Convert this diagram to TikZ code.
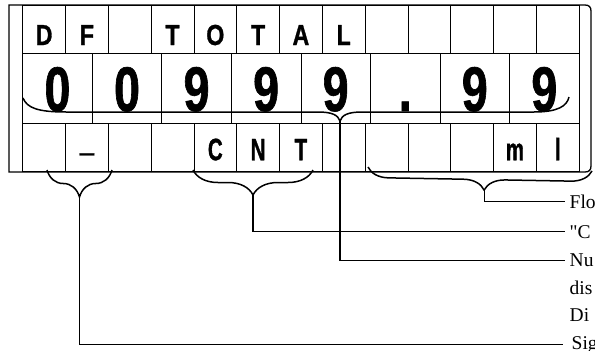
\documentclass[tikz,border=0pt]{standalone}
\usepackage{fontspec}
\setmainfont{Liberation Serif}
\newfontfamily\lcdtop[FakeStretch=0.8, FakeBold=1]{Liberation Sans}
\newfontfamily\lcdnum[FakeStretch=0.74, FakeBold=1]{Liberation Sans}
\newfontfamily\lcdbot[FakeStretch=0.66, FakeBold=1]{Liberation Sans}
\usetikzlibrary{decorations.pathreplacing}

\begin{document}
\begin{tikzpicture}[
  x=1pt, y=-1pt,
  cell/.style={draw, line width=0.7pt, inner sep=0pt, text depth=0pt},
  topcell/.style={cell, minimum width=42.8pt, minimum height=48pt, text height=32pt,
    font=\lcdtop\bfseries\fontsize{29}{29}\selectfont},
  numcell/.style={cell, minimum width=69.55pt, minimum height=70pt, text height=46pt,
    font=\lcdnum\bfseries\fontsize{63}{63}\selectfont},
  botcell/.style={cell, minimum width=42.8pt, minimum height=48.5pt, text height=26pt,
    font=\lcdbot\bfseries\fontsize{31}{31}\selectfont},
  frame/.style={draw, line width=1.3pt},
  curly/.style 2 args={decorate, decoration={brace, mirror, amplitude=#1, aspect=#2}, line width=1.5pt},
  lead/.style={line width=1.3pt},
  note/.style={anchor=base west, inner xsep=4.5pt, font=\fontsize{19.5}{23}\selectfont}
]
\useasboundingbox (0,0) rectangle (595,351);
\clip (0,0) rectangle (595,351);
% Display
\foreach \c [count=\i] in {D,F,{},T,O,T,A,L,{},{},{},{},{}}
  \node[topcell] (t\i) at ({22.7+42.8*(\i-0.5)},29) {\c};
\foreach \c [count=\i] in {0,0,9,9,9,.,9,9}
  \node[numcell] (n\i) at ({22.7+69.55*(\i-0.5)},88) {\c};
\foreach \c [count=\i] in {{},{\fontsize{22}{22}\selectfont\textemdash},{},{},C,N,T,{},{},{},{},m,l}
  \node[botcell] (b\i) at ({22.7+42.8*(\i-0.5)},147.25) {\c};
\draw[frame] (9,172) -- (9,5) -- (585,5) .. controls (589,5) and (591,7) .. (591,11)
  -- (591,166) .. controls (591,170) and (589,172) .. (585,172) -- cycle;
% Braces
\draw[line width=1.5pt] (23,98) .. controls (27,108) and (38,112) .. (66,112) -- (318,112)
  .. controls (332,112) and (338,115) .. (340,121) .. controls (342,115) and (348,112) .. (362,112)
  -- (534,112) .. controls (558,112) and (567,106) .. (569,97);
\draw[curly={27pt}{0.5}] (47,170) -- (112,170);
\draw[curly={25pt}{0.5}] (193,170) -- (313,170);
\draw[curly={21pt}{0.52}] (368,167) -- (592,171);
\coordinate (numtip) at (340,121);
\coordinate (signtip) at (79.5,197);
\coordinate (cnttip) at (253,195);
\coordinate (flowtip) at (484.5,190);
% Labels
\node[note] (flo) at (565,208) {Flo};
\node[note] (cnt) at (565,238) {\textquotedbl C};
\node[note] (nu) at (565,266.5) {Nu};
\node[note] (dis) at (565,294) {dis};
\node[note] (di) at (565,321.5) {Di};
\node[note] (sig) at (567,349) {Sig};
% Leaders
\draw[lead] (flowtip) |- (flo.west);
\draw[lead] (cnttip) |- (cnt.west);
\draw[lead] (numtip) |- (nu.west);
\draw[lead, shorten >=4pt] (signtip) |- (sig.west);
\end{tikzpicture}
\end{document}
